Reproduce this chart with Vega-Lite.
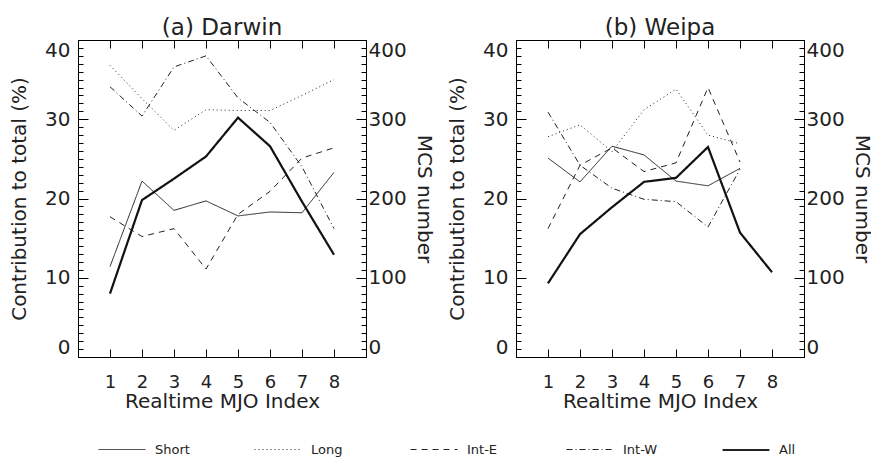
{
  "$schema": "https://vega.github.io/schema/vega-lite/v6.json",
  "padding": {"left": 9, "top": 16, "right": 0, "bottom": 0},
  "background": "white",
  "datasets": {
    "pct": [
      {"st":"Darwin","series":"Short","idx":1,"v":11.4},{"st":"Darwin","series":"Short","idx":2,"v":22.2},{"st":"Darwin","series":"Short","idx":3,"v":18.5},{"st":"Darwin","series":"Short","idx":4,"v":19.7},{"st":"Darwin","series":"Short","idx":5,"v":17.8},{"st":"Darwin","series":"Short","idx":6,"v":18.3},{"st":"Darwin","series":"Short","idx":7,"v":18.2},{"st":"Darwin","series":"Short","idx":8,"v":23.3},
      {"st":"Darwin","series":"Long","idx":1,"v":36.8},{"st":"Darwin","series":"Long","idx":2,"v":32.6},{"st":"Darwin","series":"Long","idx":3,"v":28.6},{"st":"Darwin","series":"Long","idx":4,"v":31.2},{"st":"Darwin","series":"Long","idx":5,"v":31.1},{"st":"Darwin","series":"Long","idx":6,"v":31.1},{"st":"Darwin","series":"Long","idx":7,"v":33.0},{"st":"Darwin","series":"Long","idx":8,"v":35.0},
      {"st":"Darwin","series":"Int-E","idx":1,"v":17.7},{"st":"Darwin","series":"Int-E","idx":2,"v":15.2},{"st":"Darwin","series":"Int-E","idx":3,"v":16.2},{"st":"Darwin","series":"Int-E","idx":4,"v":11.1},{"st":"Darwin","series":"Int-E","idx":5,"v":18.0},{"st":"Darwin","series":"Int-E","idx":6,"v":20.9},{"st":"Darwin","series":"Int-E","idx":7,"v":25.1},{"st":"Darwin","series":"Int-E","idx":8,"v":26.4},
      {"st":"Darwin","series":"Int-W","idx":1,"v":34.1},{"st":"Darwin","series":"Int-W","idx":2,"v":30.4},{"st":"Darwin","series":"Int-W","idx":3,"v":36.6},{"st":"Darwin","series":"Int-W","idx":4,"v":38.0},{"st":"Darwin","series":"Int-W","idx":5,"v":32.7},{"st":"Darwin","series":"Int-W","idx":6,"v":29.6},{"st":"Darwin","series":"Int-W","idx":7,"v":24.0},{"st":"Darwin","series":"Int-W","idx":8,"v":16.2},
      {"st":"Weipa","series":"Short","idx":1,"v":25.1},{"st":"Weipa","series":"Short","idx":2,"v":22.1},{"st":"Weipa","series":"Short","idx":3,"v":26.6},{"st":"Weipa","series":"Short","idx":4,"v":25.5},{"st":"Weipa","series":"Short","idx":5,"v":22.2},{"st":"Weipa","series":"Short","idx":6,"v":21.6},{"st":"Weipa","series":"Short","idx":7,"v":23.8},
      {"st":"Weipa","series":"Long","idx":1,"v":27.8},{"st":"Weipa","series":"Long","idx":2,"v":29.3},{"st":"Weipa","series":"Long","idx":3,"v":25.9},{"st":"Weipa","series":"Long","idx":4,"v":31.2},{"st":"Weipa","series":"Long","idx":5,"v":33.8},{"st":"Weipa","series":"Long","idx":6,"v":28.0},{"st":"Weipa","series":"Long","idx":7,"v":26.9},
      {"st":"Weipa","series":"Int-E","idx":1,"v":16.2},{"st":"Weipa","series":"Int-E","idx":2,"v":24.2},{"st":"Weipa","series":"Int-E","idx":3,"v":26.4},{"st":"Weipa","series":"Int-E","idx":4,"v":23.4},{"st":"Weipa","series":"Int-E","idx":5,"v":24.5},{"st":"Weipa","series":"Int-E","idx":6,"v":34.0},{"st":"Weipa","series":"Int-E","idx":7,"v":24.6},
      {"st":"Weipa","series":"Int-W","idx":1,"v":30.9},{"st":"Weipa","series":"Int-W","idx":2,"v":24.2},{"st":"Weipa","series":"Int-W","idx":3,"v":21.3},{"st":"Weipa","series":"Int-W","idx":4,"v":19.9},{"st":"Weipa","series":"Int-W","idx":5,"v":19.6},{"st":"Weipa","series":"Int-W","idx":6,"v":16.4},{"st":"Weipa","series":"Int-W","idx":7,"v":23.7}
    ],
    "mcs": [
      {"st":"Darwin","series":"All","idx":1,"n":80},{"st":"Darwin","series":"All","idx":2,"n":198},{"st":"Darwin","series":"All","idx":3,"n":225},{"st":"Darwin","series":"All","idx":4,"n":253},{"st":"Darwin","series":"All","idx":5,"n":302},{"st":"Darwin","series":"All","idx":6,"n":266},{"st":"Darwin","series":"All","idx":7,"n":196},{"st":"Darwin","series":"All","idx":8,"n":129},
      {"st":"Weipa","series":"All","idx":1,"n":93},{"st":"Weipa","series":"All","idx":2,"n":155},{"st":"Weipa","series":"All","idx":3,"n":189},{"st":"Weipa","series":"All","idx":4,"n":221},{"st":"Weipa","series":"All","idx":5,"n":226},{"st":"Weipa","series":"All","idx":6,"n":265},{"st":"Weipa","series":"All","idx":7,"n":157},{"st":"Weipa","series":"All","idx":8,"n":107}
    ]
  },
  "hconcat": [
    {
      "title": {"text": "(a)  Darwin"},
      "width": 288, "height": 317,
      "layer": [
        {
          "data": {"name": "pct"},
          "transform": [{"filter": "datum.st === 'Darwin'"}],
          "mark": {"type": "line", "color": "#222", "clip": true},
          "encoding": {
            "x": {"field": "idx", "type": "quantitative", "scale": {"domain": [0, 9]},
                  "axis": {"orient": "bottom", "values": [1,2,3,4,5,6,7,8], "tickSize": -8, "labelFontSize": 18, "labelPadding": 24, "title": "Realtime MJO Index", "titlePadding": 0}},
            "y": {"field": "v", "type": "quantitative", "scale": {"domain": [0, 40]},
                  "axis": {"orient": "left", "values": [0,1,2,3,4,5,6,7,8,9,10,11,12,13,14,15,16,17,18,19,20,21,22,23,24,25,26,27,28,29,30,31,32,33,34,35,36,37,38,39,40],
                           "labelExpr": "datum.value % 10 === 0 ? datum.label : ''", "labelFlush": true,
                           "tickSize": {"condition": {"test": "datum.value % 10 === 0", "value": -10}, "value": -5},
                           "labelPadding": 18, "title": "Contribution to total (%)", "titlePadding": 15}},
            "strokeDash": {"field": "series", "type": "nominal", "scale": {"type": "ordinal", "domain": ["Short","Long","Int-E","Int-W","All"], "range": [[1,0],[1,3],[6,5],[6,3,1,3],[1,0]]}, "legend": {"title": null}},
            "strokeWidth": {"field": "series", "type": "nominal", "scale": {"type": "ordinal", "domain": ["Short","Long","Int-E","Int-W","All"], "range": [1,1,1,1,2.2]}, "legend": {"title": null}}
          }
        },
        {
          "data": {"name": "mcs"},
          "transform": [{"filter": "datum.st === 'Darwin'"}],
          "mark": {"type": "line", "color": "#111", "clip": true},
          "encoding": {
            "x": {"field": "idx", "type": "quantitative", "scale": {"domain": [0, 9]},
                  "axis": {"orient": "top", "values": [1,2,3,4,5,6,7,8], "tickSize": -8, "labels": false, "title": null}},
            "y": {"field": "n", "type": "quantitative", "scale": {"domain": [0, 400]},
                  "axis": {"orient": "right", "values": [0,10,20,30,40,50,60,70,80,90,100,110,120,130,140,150,160,170,180,190,200,210,220,230,240,250,260,270,280,290,300,310,320,330,340,350,360,370,380,390,400],
                           "labelExpr": "datum.value % 100 === 0 ? datum.label : ''", "labelFlush": true,
                           "tickSize": {"condition": {"test": "datum.value % 100 === 0", "value": -10}, "value": -5},
                           "labelPadding": 12, "title": "MCS number", "titlePadding": 7}},
            "strokeDash": {"field": "series", "type": "nominal", "scale": {"type": "ordinal", "domain": ["Short","Long","Int-E","Int-W","All"], "range": [[1,0],[1,3],[6,5],[6,3,1,3],[1,0]]}, "legend": {"title": null}},
            "strokeWidth": {"field": "series", "type": "nominal", "scale": {"type": "ordinal", "domain": ["Short","Long","Int-E","Int-W","All"], "range": [1,1,1,1,2.2]}, "legend": {"title": null}}
          }
        }
      ],
      "resolve": {"scale": {"y": "independent"}, "axis": {"x": "independent", "y": "independent"}}
    },
    {
      "title": {"text": "(b)  Weipa"},
      "width": 288, "height": 317,
      "layer": [
        {
          "data": {"name": "pct"},
          "transform": [{"filter": "datum.st === 'Weipa'"}],
          "mark": {"type": "line", "color": "#222", "clip": true},
          "encoding": {
            "x": {"field": "idx", "type": "quantitative", "scale": {"domain": [0, 9]},
                  "axis": {"orient": "bottom", "values": [1,2,3,4,5,6,7,8], "tickSize": -8, "labelFontSize": 18, "labelPadding": 24, "title": "Realtime MJO Index", "titlePadding": 0}},
            "y": {"field": "v", "type": "quantitative", "scale": {"domain": [0, 40]},
                  "axis": {"orient": "left", "values": [0,1,2,3,4,5,6,7,8,9,10,11,12,13,14,15,16,17,18,19,20,21,22,23,24,25,26,27,28,29,30,31,32,33,34,35,36,37,38,39,40],
                           "labelExpr": "datum.value % 10 === 0 ? datum.label : ''", "labelFlush": true,
                           "tickSize": {"condition": {"test": "datum.value % 10 === 0", "value": -10}, "value": -5},
                           "labelPadding": 18, "title": "Contribution to total (%)", "titlePadding": 15}},
            "strokeDash": {"field": "series", "type": "nominal", "scale": {"type": "ordinal", "domain": ["Short","Long","Int-E","Int-W","All"], "range": [[1,0],[1,3],[6,5],[6,3,1,3],[1,0]]}, "legend": {"title": null}},
            "strokeWidth": {"field": "series", "type": "nominal", "scale": {"type": "ordinal", "domain": ["Short","Long","Int-E","Int-W","All"], "range": [1,1,1,1,2.2]}, "legend": {"title": null}}
          }
        },
        {
          "data": {"name": "mcs"},
          "transform": [{"filter": "datum.st === 'Weipa'"}],
          "mark": {"type": "line", "color": "#111", "clip": true},
          "encoding": {
            "x": {"field": "idx", "type": "quantitative", "scale": {"domain": [0, 9]},
                  "axis": {"orient": "top", "values": [1,2,3,4,5,6,7,8], "tickSize": -8, "labels": false, "title": null}},
            "y": {"field": "n", "type": "quantitative", "scale": {"domain": [0, 400]},
                  "axis": {"orient": "right", "values": [0,10,20,30,40,50,60,70,80,90,100,110,120,130,140,150,160,170,180,190,200,210,220,230,240,250,260,270,280,290,300,310,320,330,340,350,360,370,380,390,400],
                           "labelExpr": "datum.value % 100 === 0 ? datum.label : ''", "labelFlush": true,
                           "tickSize": {"condition": {"test": "datum.value % 100 === 0", "value": -10}, "value": -5},
                           "labelPadding": 12, "title": "MCS number", "titlePadding": 7}},
            "strokeDash": {"field": "series", "type": "nominal", "scale": {"type": "ordinal", "domain": ["Short","Long","Int-E","Int-W","All"], "range": [[1,0],[1,3],[6,5],[6,3,1,3],[1,0]]}, "legend": {"title": null}},
            "strokeWidth": {"field": "series", "type": "nominal", "scale": {"type": "ordinal", "domain": ["Short","Long","Int-E","Int-W","All"], "range": [1,1,1,1,2.2]}, "legend": {"title": null}}
          }
        }
      ],
      "resolve": {"scale": {"y": "independent"}, "axis": {"x": "independent", "y": "independent"}}
    }
  ],
  "spacing": 13,
  "config": {
    "font": "DejaVu Sans",
    "view": {"stroke": "#000", "strokeWidth": 1},
    "title": {"fontSize": 23, "fontWeight": "normal", "color": "#222", "offset": -2, "anchor": "middle"},
    "axis": {"grid": false, "domainColor": "#000", "tickColor": "#000", "labelColor": "#222", "titleColor": "#222",
             "labelFontSize": 20, "titleFontSize": 20, "titleFontWeight": "normal", "labelFlush": false, "labelOverlap": false},
    "legend": {"orient": "none", "legendX": 19, "legendY": 385, "direction": "horizontal", "columns": 5, "gridAlign": "all",
               "columnPadding": 60, "symbolType": "stroke", "symbolSize": 2200, "symbolStrokeColor": "#222",
               "labelFontSize": 13, "labelColor": "#222", "labelOffset": 8, "padding": 0}
  }
}
